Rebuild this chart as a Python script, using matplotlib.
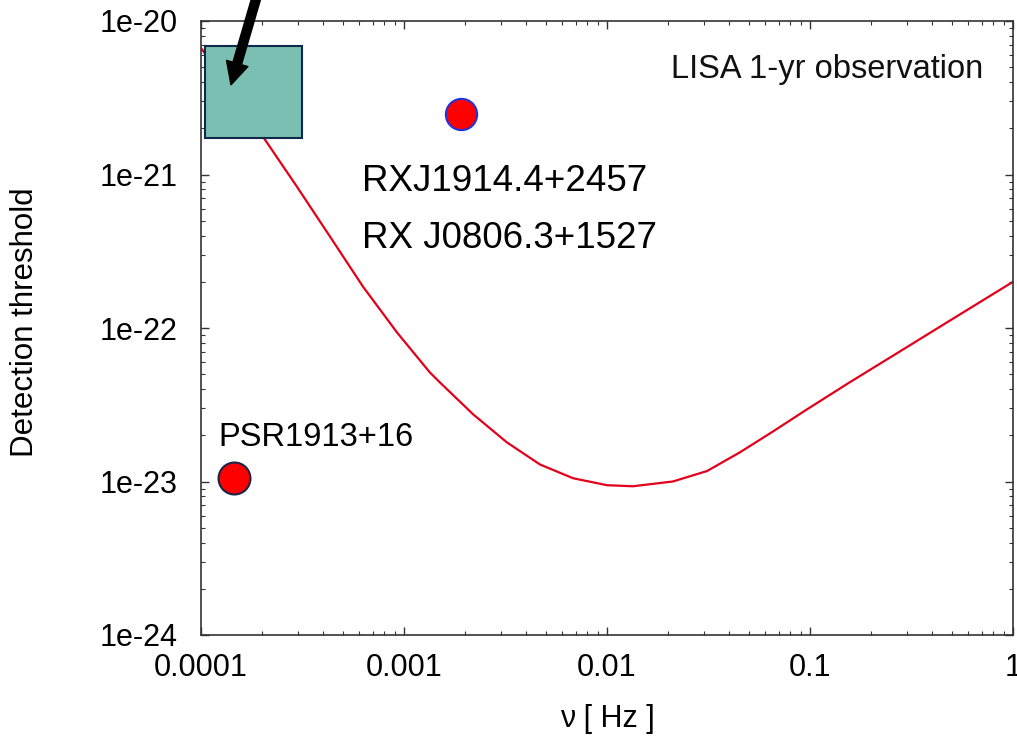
import matplotlib
matplotlib.use("Agg")
import matplotlib.pyplot as plt
from matplotlib.patches import Rectangle
from matplotlib.ticker import LogLocator, NullFormatter, FixedLocator

plt.rcParams['font.family'] = ['Liberation Sans', 'DejaVu Sans']

# LISA sensitivity curve, 1-yr integration
freq = [1.00e-4, 2.07e-4, 2.97e-4, 4.32e-4, 6.28e-4, 9.24e-4, 1.34e-3, 1.50e-3,
        2.19e-3, 3.21e-3, 4.68e-3, 6.81e-3, 1.00e-2, 1.34e-2, 2.11e-2, 3.11e-2,
        4.52e-2, 6.58e-2, 9.66e-2, 0.157, 0.277, 0.490, 1.0]
h_thr = [6.67e-21, 1.68e-21, 8.32e-22, 3.94e-22, 1.86e-22, 9.35e-23, 5.14e-23, 4.43e-23,
         2.74e-23, 1.80e-23, 1.29e-23, 1.05e-23, 9.46e-24, 9.31e-24, 1.00e-23, 1.17e-23,
         1.55e-23, 2.12e-23, 2.95e-23, 4.43e-23, 7.03e-23, 1.12e-22, 2.00e-22]

# known sources
psr_f, psr_h = 1.45e-4, 1.05e-23
rx_f, rx_h = 1.91e-3, 2.48e-21

# galactic binary confusion box
box_f = [1.05e-4, 3.14e-4]
box_h = [1.73e-21, 6.88e-21]

xticks = [1e-4, 1e-3, 1e-2, 1e-1, 1]
xlabels = ['0.0001', '0.001', '0.01', '0.1', '1']
yticks = [1e-24, 1e-23, 1e-22, 1e-21, 1e-20]
ylabels = ['1e-24', '1e-23', '1e-22', '1e-21', '1e-20']

fig = plt.figure(figsize=(10.17, 7.36), dpi=100)
ax = fig.add_axes([201/1017, 101/736, 812/1017, 614/736])

ax.plot(freq, h_thr, color='#e3001b', lw=1.6, zorder=2,
        solid_joinstyle='round')

ax.add_patch(Rectangle((box_f[0], box_h[0]), box_f[1] - box_f[0], box_h[1] - box_h[0],
                       facecolor='#7bbfb2', edgecolor='#0d2a4a', lw=1.5, zorder=3))

ax.plot(psr_f, psr_h, 'o', ms=23, mfc='red', mec='#1a2548', mew=1.5, zorder=4)
ax.plot(rx_f, rx_h, 'o', ms=22.5, mfc='red', mec='#2233dd', mew=1.5, zorder=4)

# arrow pointing into the box
ax.annotate('', xy=(1.405e-4, 3.84e-21), xytext=(2.0e-4, 1.9e-20),
            arrowprops=dict(arrowstyle='simple,head_width=0.8,head_length=0.8,tail_width=0.32',
                            color='black', shrinkA=0, shrinkB=0, mutation_scale=20),
            annotation_clip=False, zorder=5)

ax.text(0.963, 0.907, 'LISA 1-yr observation', transform=ax.transAxes,
        ha='right', va='baseline', fontsize=23.5, color='#111111')
ax.text(0.198, 0.723, 'RXJ1914.4+2457', transform=ax.transAxes,
        ha='left', va='baseline', fontsize=26.5)
ax.text(0.198, 0.630, 'RX J0806.3+1527', transform=ax.transAxes,
        ha='left', va='baseline', fontsize=26.5)
ax.text(0.021, 0.308, 'PSR1913+16', transform=ax.transAxes,
        ha='left', va='baseline', fontsize=23.5)

ax.set_xscale('log')
ax.set_yscale('log')
ax.set_xlim(1e-4, 1)
ax.set_ylim(1e-24, 1e-20)

ax.xaxis.set_major_locator(FixedLocator(xticks))
ax.set_xticklabels(xlabels)
ax.yaxis.set_major_locator(FixedLocator(yticks))
ax.set_yticklabels(ylabels)
ax.xaxis.set_minor_locator(LogLocator(base=10, subs=range(2, 10), numticks=20))
ax.yaxis.set_minor_locator(LogLocator(base=10, subs=range(2, 10), numticks=20))
ax.xaxis.set_minor_formatter(NullFormatter())
ax.yaxis.set_minor_formatter(NullFormatter())

ax.tick_params(which='both', direction='in', top=True, right=True, color='#333333')
ax.tick_params(which='major', length=6, width=1.0, labelsize=22)
ax.tick_params(which='minor', length=3, width=0.8)
ax.tick_params(axis='x', which='major', pad=13)
ax.tick_params(axis='y', which='major', pad=17)
for s in ax.spines.values():
    s.set_color('#333333')
    s.set_linewidth(1.2)

ax.set_xlabel('ν [ Hz ]', fontsize=22)
ax.set_ylabel('Detection threshold', fontsize=22.5)
ax.xaxis.set_label_coords(0.5, -0.112)
ax.yaxis.set_label_coords(-0.198, 0.51)

fig.savefig('out.png', dpi=100)
